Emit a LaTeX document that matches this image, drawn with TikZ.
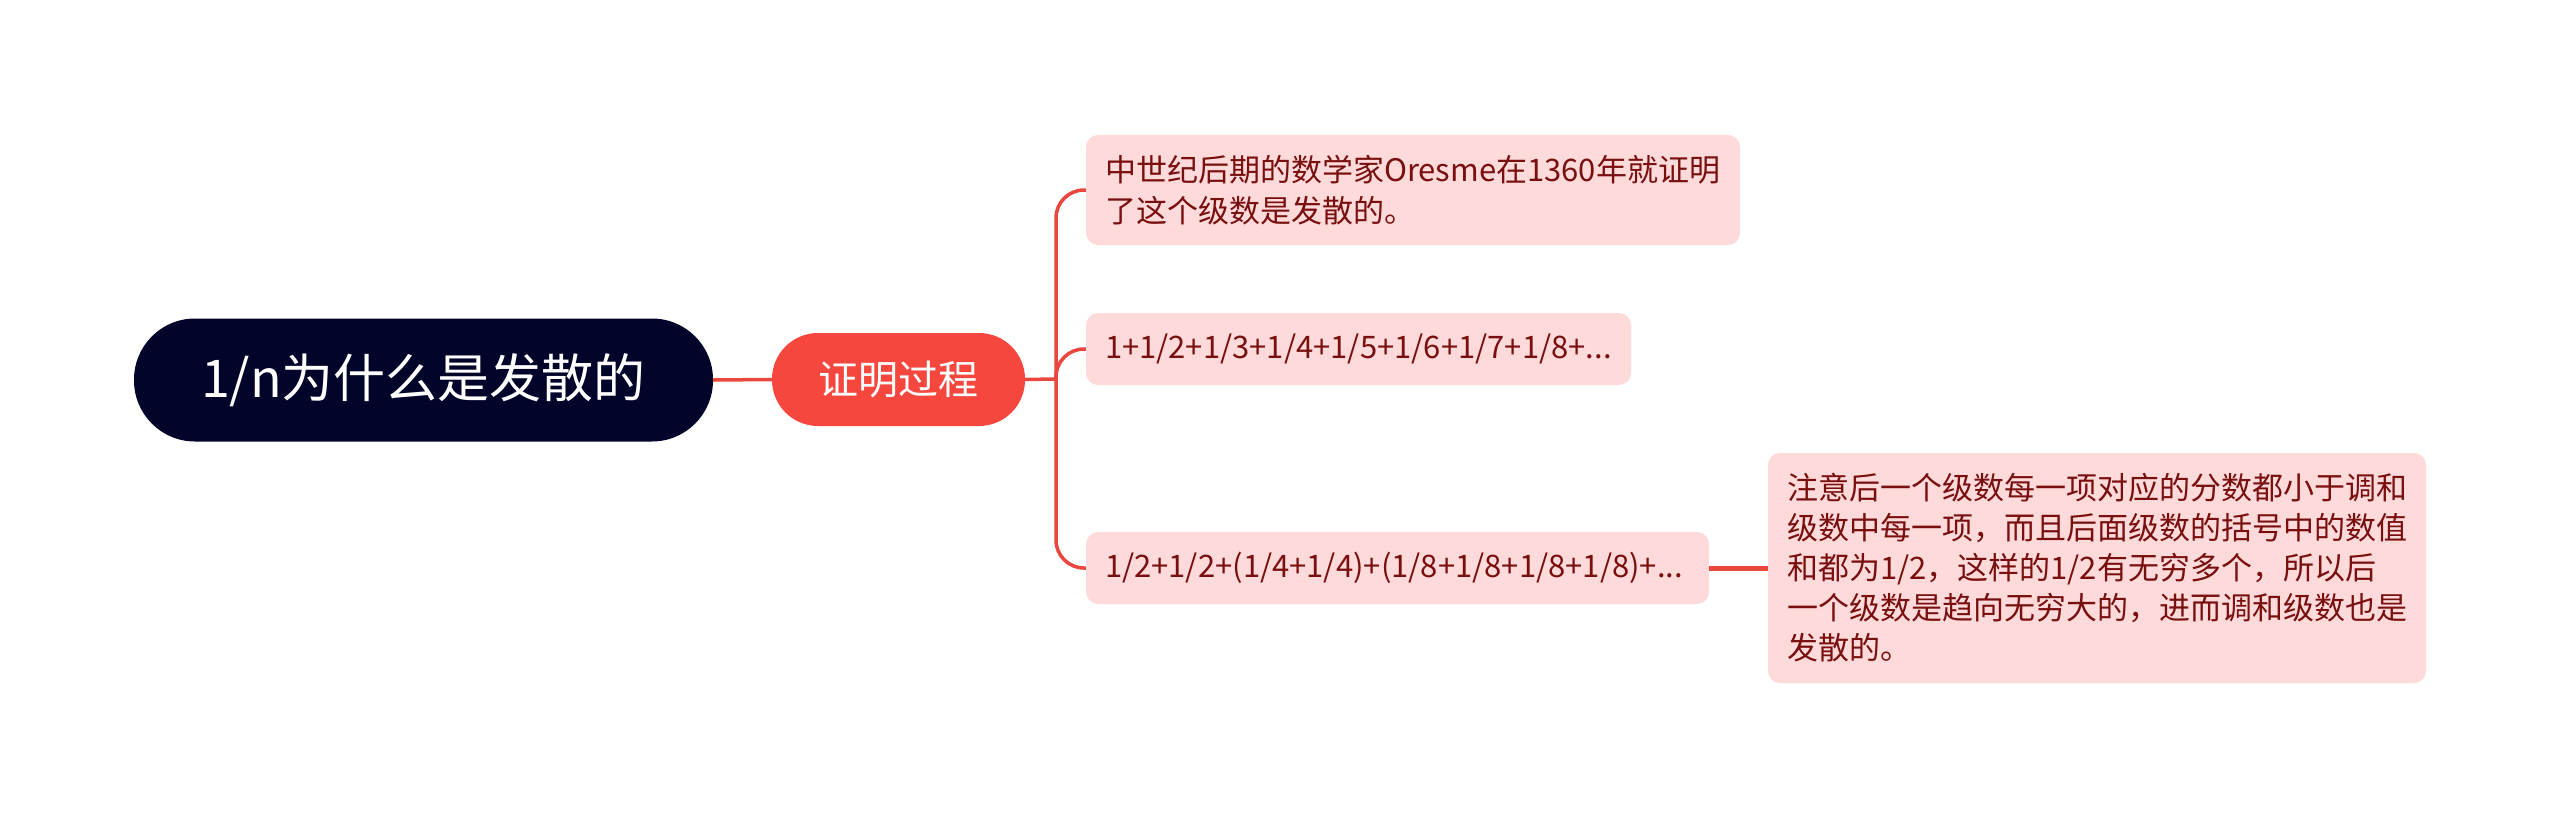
\documentclass[tikz,border=0pt]{standalone}
\usepackage{fontspec}
\setmainfont{Noto Sans CJK SC}
\hyphenpenalty=10000
\exhyphenpenalty=10000
\definecolor{rootc}{HTML}{02042A}
\definecolor{redc}{HTML}{F5473E}
\definecolor{linec}{HTML}{E9463D}
\definecolor{pinkc}{HTML}{FEDADA}
\definecolor{textc}{HTML}{7A0F0F}
\begin{document}
\begin{tikzpicture}[x=1pt,y=-1pt,
  rootbox/.style={fill=rootc, text=white, rounded corners=61pt, minimum width=579pt, minimum height=123pt, inner sep=0pt, font=\fontsize{52}{60}\selectfont},
  proofbox/.style={fill=redc, text=white, rounded corners=46pt, minimum width=253pt, minimum height=93pt, inner sep=0pt, font=\fontsize{40}{46}\selectfont},
  leafbox/.style={fill=pinkc, text=textc, rounded corners=12pt, inner xsep=19pt, inner ysep=0pt, align=left, font=\fontsize{31}{41}\selectfont},
  conn/.style={draw=linec, line width=3.5pt}]
\useasboundingbox (0,0) rectangle (2560,819);
\node[rootbox] (root) at (423.5,380) {1/n为什么是发散的};
\node[proofbox] (proof) at (898.5,379.5) {证明过程};
\node[leafbox, text width=616pt, minimum height=110pt] (c1) at (1413,190) {中世纪后期的数学家Oresme在1360年就证明\\了这个级数是发散的。};
\node[leafbox, text width=507pt, minimum height=72pt] (c2) at (1358.5,349) {1+1/2+1/3+1/4+1/5+1/6+1/7+1/8+...};
\node[leafbox, text width=585pt, minimum height=72pt] (c3) at (1397.5,568) {1/2+1/2+(1/4+1/4)+(1/8+1/8+1/8+1/8)+...};
\node[leafbox, text width=620pt, minimum height=230pt, font=\fontsize{31}{40}\selectfont] (g) at (2097,568) {注意后一个级数每一项对应的分数都小于调和\\级数中每一项，而且后面级数的括号中的数值\\和都为1/2，这样的1/2有无穷多个，所以后\\一个级数是趋向无穷大的，进而调和级数也是\\发散的。};
\coordinate (hub) at (1056,379);
\draw[conn] (root.east) -- (proof.west);
\draw[conn] (proof.east) -- (hub);
\draw[conn, rounded corners=28pt] (hub) |- (c1.west);
\draw[conn, rounded corners=28pt] (hub) |- (c2.west);
\draw[conn, rounded corners=28pt] (hub) |- (c3.west);
\draw[conn, line width=5pt] (c3.east) -- (c3.east -| g.west);
\end{tikzpicture}
\end{document}
